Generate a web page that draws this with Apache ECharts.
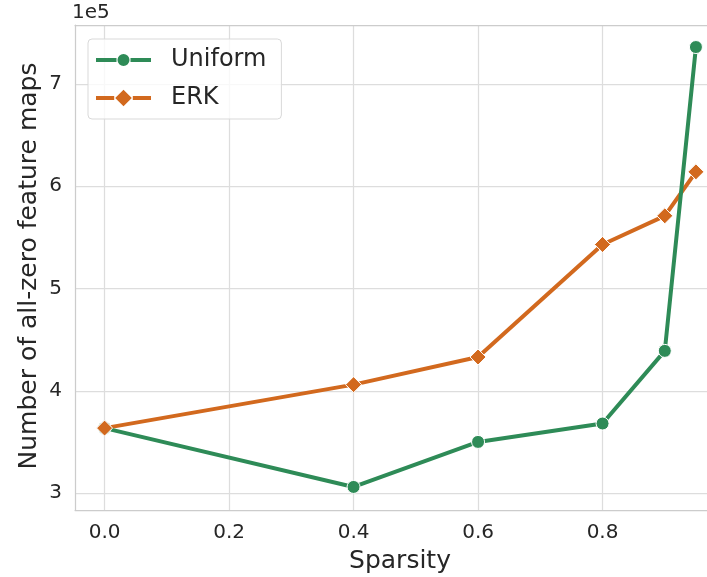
<!DOCTYPE html>
<html>
<head>
<meta charset="utf-8">
<script src="https://cdn.jsdelivr.net/npm/echarts@6/dist/echarts.min.js"></script>
<style>
  html, body { margin: 0; padding: 0; background: #ffffff; overflow: hidden; }
  #chart { width: 707px; height: 577px; }
</style>
</head>
<body>
<div id="chart"></div>
<script>
// Sparsity levels and counts of all-zero feature maps (in units of 1e5)
const sparsity = [0.0, 0.4, 0.6, 0.8, 0.9, 0.95];
const uniform = [3.635, 3.06, 3.50, 3.68, 4.39, 7.36];
const erk = [3.635, 4.06, 4.33, 5.43, 5.71, 6.14];
const xTicks = [0.0, 0.2, 0.4, 0.6, 0.8];
const yTicks = [3, 4, 5, 6, 7];

const FONT = 'DejaVu Sans';
const TEXT = '#262626';
const GRID = '#dddddd';
const FRAME = '#cccccc';
const GREEN = '#2e8b57';
const ORANGE = '#d2691e';
// plot runs slightly past the right edge of the page
const X_MIN = -0.0475, X_MAX = 0.9694;

// Legend glyphs: a thick line broken by the series marker (55 x 17 box)
const circleIcon = 'path://M0 0.2L0 0.2M55 16.8L55 16.8' +
  'M0 6.5L20.5 6.5L20.5 10.5L0 10.5Z' +
  'M34.5 6.5L55 6.5L55 10.5L34.5 10.5Z' +
  'M21.5 8.5A6 6 0 1 0 33.5 8.5A6 6 0 1 0 21.5 8.5Z';
const diamondIcon = 'path://M0 6.5L18.2 6.5L18.2 10.5L0 10.5Z' +
  'M36.8 6.5L55 6.5L55 10.5L36.8 10.5Z' +
  'M27.5 0.2L35.8 8.5L27.5 16.8L19.2 8.5Z';

const pairs = (ys) => sparsity.map((x, i) => [x, ys[i]]);

const chart = echarts.init(document.getElementById('chart'), null, { renderer: 'canvas' });

chart.setOption({
  animation: false,
  backgroundColor: '#ffffff',
  textStyle: { fontFamily: FONT },
  grid: {
    left: 75, top: 25, width: 633, height: 485,
    outerBoundsMode: 'none', containLabel: false, show: false
  },
  xAxis: [
    {
      type: 'value', min: X_MIN, max: X_MAX,
      axisLine: { show: true, onZero: false, lineStyle: { color: FRAME, width: 1.25 } },
      axisTick: { show: false, customValues: xTicks },
      axisLabel: {
        customValues: xTicks, margin: 13,
        fontFamily: FONT, fontSize: 20, color: TEXT,
        formatter: (v) => v.toFixed(1)
      },
      splitLine: { show: true, lineStyle: { color: GRID, width: 1.25 } }
    },
    {
      // top edge of the frame
      type: 'value', position: 'top', min: X_MIN, max: X_MAX,
      axisLine: { show: true, onZero: false, lineStyle: { color: FRAME, width: 1.25 } },
      axisTick: { show: false }, axisLabel: { show: false }, splitLine: { show: false }
    }
  ],
  yAxis: {
    type: 'value', min: 2.8345, max: 7.5755,
    axisLine: { show: true, onZero: false, lineStyle: { color: FRAME, width: 1.25 } },
    axisTick: { show: false, customValues: yTicks },
    axisLabel: {
      customValues: yTicks, margin: 13,
      fontFamily: FONT, fontSize: 20, color: TEXT,
      formatter: (v) => String(v)
    },
    splitLine: { show: true, lineStyle: { color: GRID, width: 1.25 } }
  },
  legend: {
    data: [
      { name: 'Uniform', icon: circleIcon },
      { name: 'ERK', icon: diamondIcon }
    ],
    orient: 'vertical',
    left: 88, top: 39,
    padding: [9, 15, 9, 8],
    itemGap: 14,
    itemWidth: 55, itemHeight: 17,
    itemStyle: { borderWidth: 0 },
    backgroundColor: 'rgba(255,255,255,0.8)',
    borderColor: '#d9d9d9', borderWidth: 1, borderRadius: 4,
    textStyle: { fontFamily: FONT, fontSize: 24, color: TEXT, padding: [0, 0, 0, 15] },
    z: 10
  },
  series: [
    {
      name: 'ERK', type: 'line', data: pairs(erk),
      showSymbol: false,
      lineStyle: { color: ORANGE, width: 4 },
      itemStyle: { color: ORANGE },
      z: 3
    },
    {
      name: 'Uniform', type: 'line', data: pairs(uniform),
      symbol: 'circle', symbolSize: 13,
      lineStyle: { color: GREEN, width: 4 },
      itemStyle: { color: GREEN, borderColor: '#ffffff', borderWidth: 1 },
      z: 4
    },
    {
      // ERK markers sit above both lines
      name: 'ERK', type: 'scatter', data: pairs(erk),
      symbol: 'diamond', symbolSize: 16,
      itemStyle: { color: ORANGE, borderColor: '#ffffff', borderWidth: 1, opacity: 1 },
      z: 5
    }
  ],
  graphic: [
    {
      type: 'text', left: 72, top: 3,
      style: { text: '1e5', fontFamily: FONT, fontSize: 20, fill: TEXT }
    },
    {
      type: 'text', x: 400, y: 561.5,
      style: { text: 'Sparsity', fontFamily: FONT, fontSize: 25, fill: TEXT, align: 'center', verticalAlign: 'middle' }
    },
    {
      type: 'text', x: 29.5, y: 266, rotation: Math.PI / 2,
      style: { text: 'Number of all-zero feature maps', fontFamily: FONT, fontSize: 25, fill: TEXT, align: 'center', verticalAlign: 'middle' }
    }
  ]
});
</script>
</body>
</html>
